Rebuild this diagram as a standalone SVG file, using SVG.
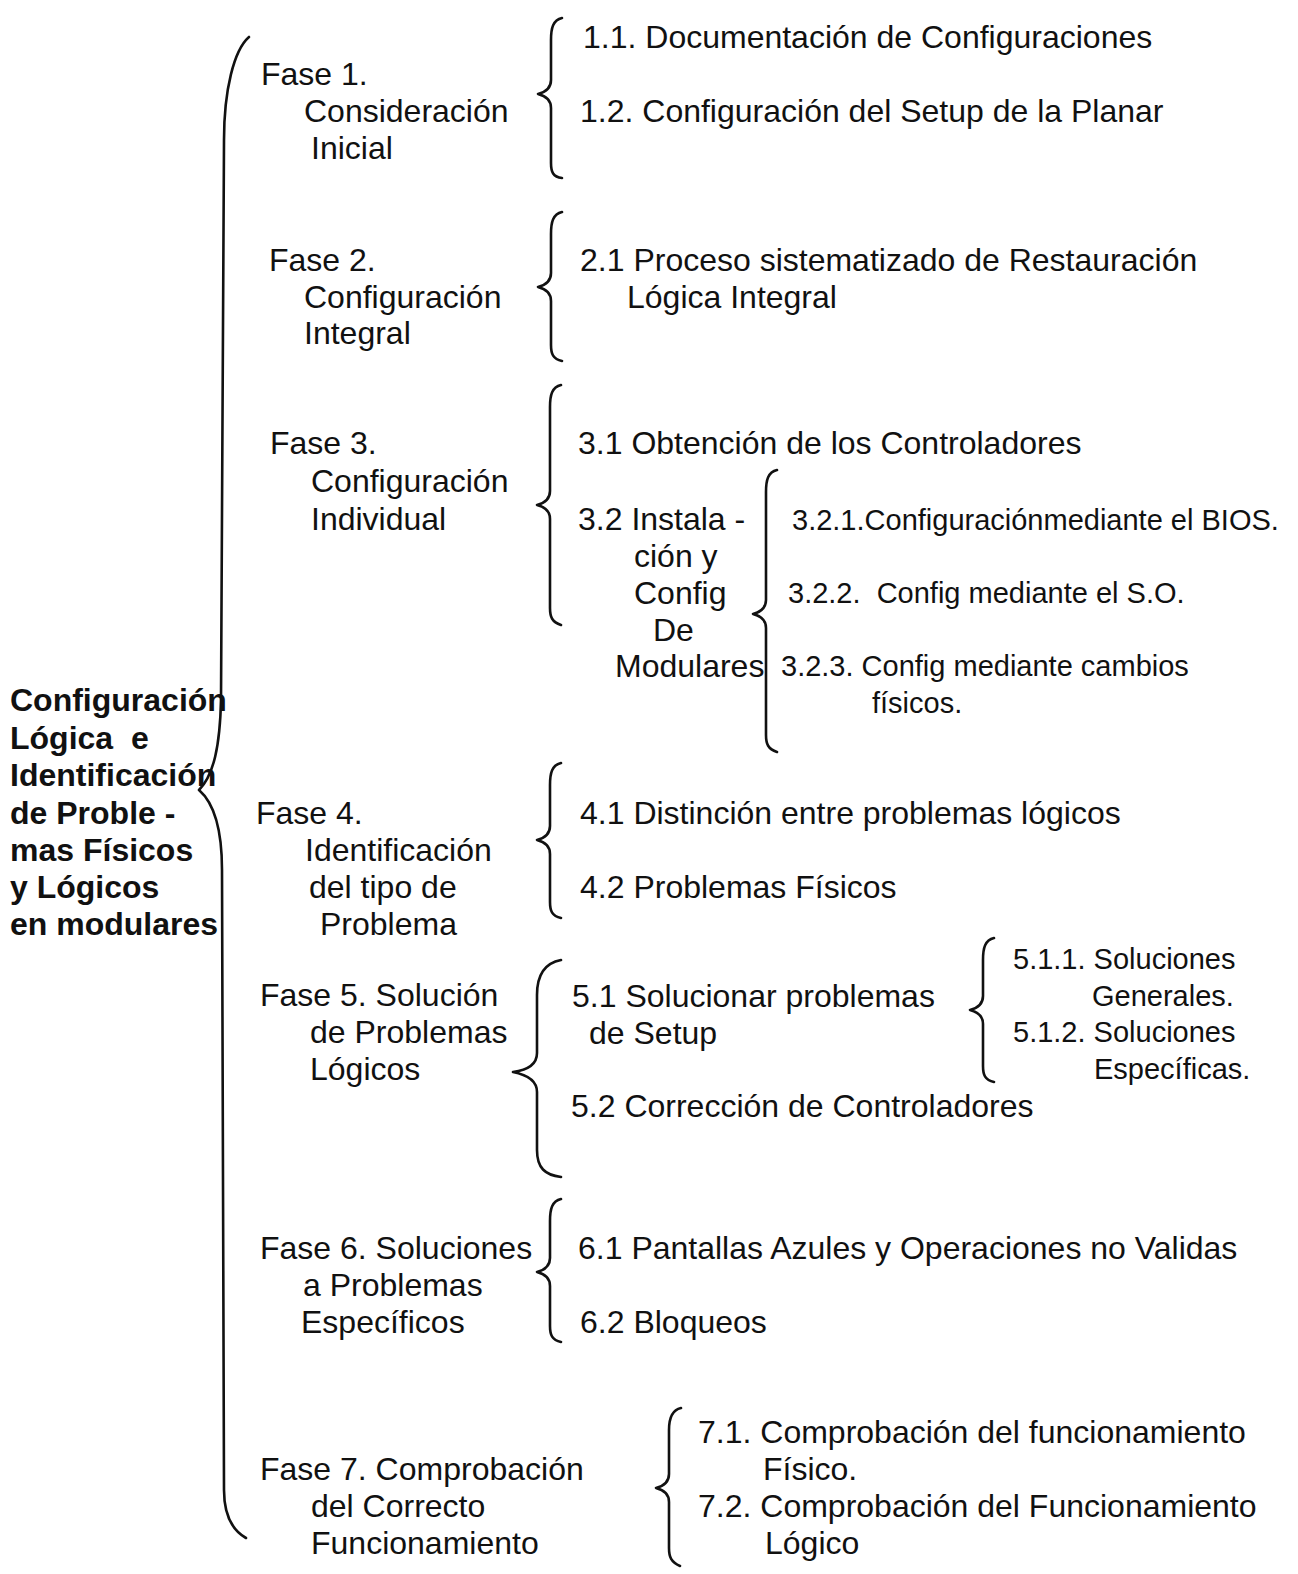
<svg xmlns="http://www.w3.org/2000/svg" width="1298" height="1574" viewBox="0 0 1298 1574" xml:space="preserve">
<style>
text{font-family:"Liberation Sans",Arial,sans-serif;font-size:32px;fill:#111;white-space:pre}
.s{font-size:29px}
.b{font-weight:bold}
.br{fill:none;stroke:#111;stroke-width:2.6;stroke-linecap:round;stroke-linejoin:round}
</style>
<rect width="1298" height="1574" fill="#fff"/>
<g id="connectors">
<path class="br" d="M249 37 C234 50 224 90 224 140 L221 700 C220 745 214 775 199 790 C214 803 222 830 222 870 L224 1490 C224 1515 232 1530 246 1538"/>
<path class="br" d="M562 18 C553 20 551 28 551 40 L551 80 C551 88 546 92 538 94 C546 96 551 100 551 108 L551 163 C551 172 553 177 562 178"/>
<path class="br" d="M562 212 C553 214 551 222 551 234 L551 273 C551 281 546 285 538 287 C546 289 551 293 551 301 L551 345 C551 354 553 359 562 361"/>
<path class="br" d="M561 385 C552 387 550 395 550 407 L550 491 C550 499 545 503 537 505 C545 507 550 511 550 519 L550 608 C550 617 552 622 561 625"/>
<path class="br" d="M777 470 C768 472 766 480 766 492 L766 600 C766 608 761 612 753 614 C761 616 766 620 766 628 L766 735 C766 744 768 749 777 752"/>
<path class="br" d="M561 763 C552 765 550 773 550 785 L550 826 C550 834 545 838 537 840 C545 842 550 846 550 854 L550 902 C550 911 552 916 561 918"/>
<path class="br" d="M561 960 C545 963 537 975 537 995 L537 1053 C537 1064 528 1070 513 1072 C528 1075 537 1081 537 1092 L537 1150 C537 1168 545 1175 561 1177"/>
<path class="br" d="M994 938 C985 940 983 948 983 960 L983 996 C983 1004 978 1008 970 1010 C978 1012 983 1016 983 1024 L983 1066 C983 1075 985 1080 994 1082"/>
<path class="br" d="M561 1199 C552 1201 550 1209 550 1221 L550 1258 C550 1266 545 1270 537 1272 C545 1274 550 1278 550 1286 L550 1326 C550 1335 552 1340 561 1342"/>
<path class="br" d="M681 1408 C672 1410 669 1418 669 1430 L669 1474 C669 1482 664 1486 656 1488 C664 1490 669 1494 669 1502 L669 1548 C669 1557 671 1562 680 1566"/>
</g>
<g id="root">
<text class="b" x="10" y="711">Configuración</text>
<text class="b" x="10" y="749">Lógica  e</text>
<text class="b" x="10" y="786">Identificación</text>
<text class="b" x="10" y="824">de Proble -</text>
<text class="b" x="10" y="861">mas Físicos</text>
<text class="b" x="10" y="898">y Lógicos</text>
<text class="b" x="10" y="935">en modulares</text>
</g>
<g id="fase1">
<text x="261" y="85">Fase 1.</text>
<text x="304" y="122">Consideración</text>
<text x="311" y="159">Inicial</text>
</g>
<g id="n1-1"><text x="583" y="48">1.1. Documentación de Configuraciones</text></g>
<g id="n1-2"><text x="580" y="122">1.2. Configuración del Setup de la Planar</text></g>
<g id="fase2">
<text x="269" y="271">Fase 2.</text>
<text x="304" y="308">Configuración</text>
<text x="304" y="344">Integral</text>
</g>
<g id="n2-1">
<text x="580" y="271">2.1 Proceso sistematizado de Restauración</text>
<text x="627" y="308">Lógica Integral</text>
</g>
<g id="fase3">
<text x="270" y="454">Fase 3.</text>
<text x="311" y="492">Configuración</text>
<text x="311" y="530">Individual</text>
</g>
<g id="n3-1"><text x="578" y="454">3.1 Obtención de los Controladores</text></g>
<g id="n3-2">
<text x="578" y="530">3.2 Instala -</text>
<text x="634" y="567">ción y</text>
<text x="634" y="604">Config</text>
<text x="653" y="641">De</text>
<text x="615" y="677">Modulares</text>
</g>
<g id="n3-2-1"><text class="s" x="792" y="530">3.2.1.Configuraciónmediante el BIOS.</text></g>
<g id="n3-2-2"><text class="s" x="788" y="603">3.2.2.  Config mediante el S.O.</text></g>
<g id="n3-2-3">
<text class="s" x="781" y="676">3.2.3. Config mediante cambios</text>
<text class="s" x="872" y="713">físicos.</text>
</g>
<g id="fase4">
<text x="256" y="824">Fase 4.</text>
<text x="305" y="861">Identificación</text>
<text x="309" y="898">del tipo de</text>
<text x="320" y="935">Problema</text>
</g>
<g id="n4-1"><text x="580" y="824">4.1 Distinción entre problemas lógicos</text></g>
<g id="n4-2"><text x="580" y="898">4.2 Problemas Físicos</text></g>
<g id="fase5">
<text x="260" y="1006">Fase 5. Solución</text>
<text x="310" y="1043">de Problemas</text>
<text x="310" y="1080">Lógicos</text>
</g>
<g id="n5-1">
<text x="572" y="1007">5.1 Solucionar problemas</text>
<text x="589" y="1044">de Setup</text>
</g>
<g id="n5-2"><text x="571" y="1117">5.2 Corrección de Controladores</text></g>
<g id="n5-1-1">
<text class="s" x="1013" y="969">5.1.1. Soluciones</text>
<text class="s" x="1092" y="1006">Generales.</text>
</g>
<g id="n5-1-2">
<text class="s" x="1013" y="1042">5.1.2. Soluciones</text>
<text class="s" x="1094" y="1079">Específicas.</text>
</g>
<g id="fase6">
<text x="260" y="1259">Fase 6. Soluciones</text>
<text x="303" y="1296">a Problemas</text>
<text x="301" y="1333">Específicos</text>
</g>
<g id="n6-1"><text x="578" y="1259">6.1 Pantallas Azules y Operaciones no Validas</text></g>
<g id="n6-2"><text x="580" y="1333">6.2 Bloqueos</text></g>
<g id="fase7">
<text x="260" y="1480">Fase 7. Comprobación</text>
<text x="311" y="1517">del Correcto</text>
<text x="311" y="1554">Funcionamiento</text>
</g>
<g id="n7-1">
<text x="698" y="1443">7.1. Comprobación del funcionamiento</text>
<text x="763" y="1480">Físico.</text>
</g>
<g id="n7-2">
<text x="698" y="1517">7.2. Comprobación del Funcionamiento</text>
<text x="765" y="1554">Lógico</text>
</g>
</svg>
